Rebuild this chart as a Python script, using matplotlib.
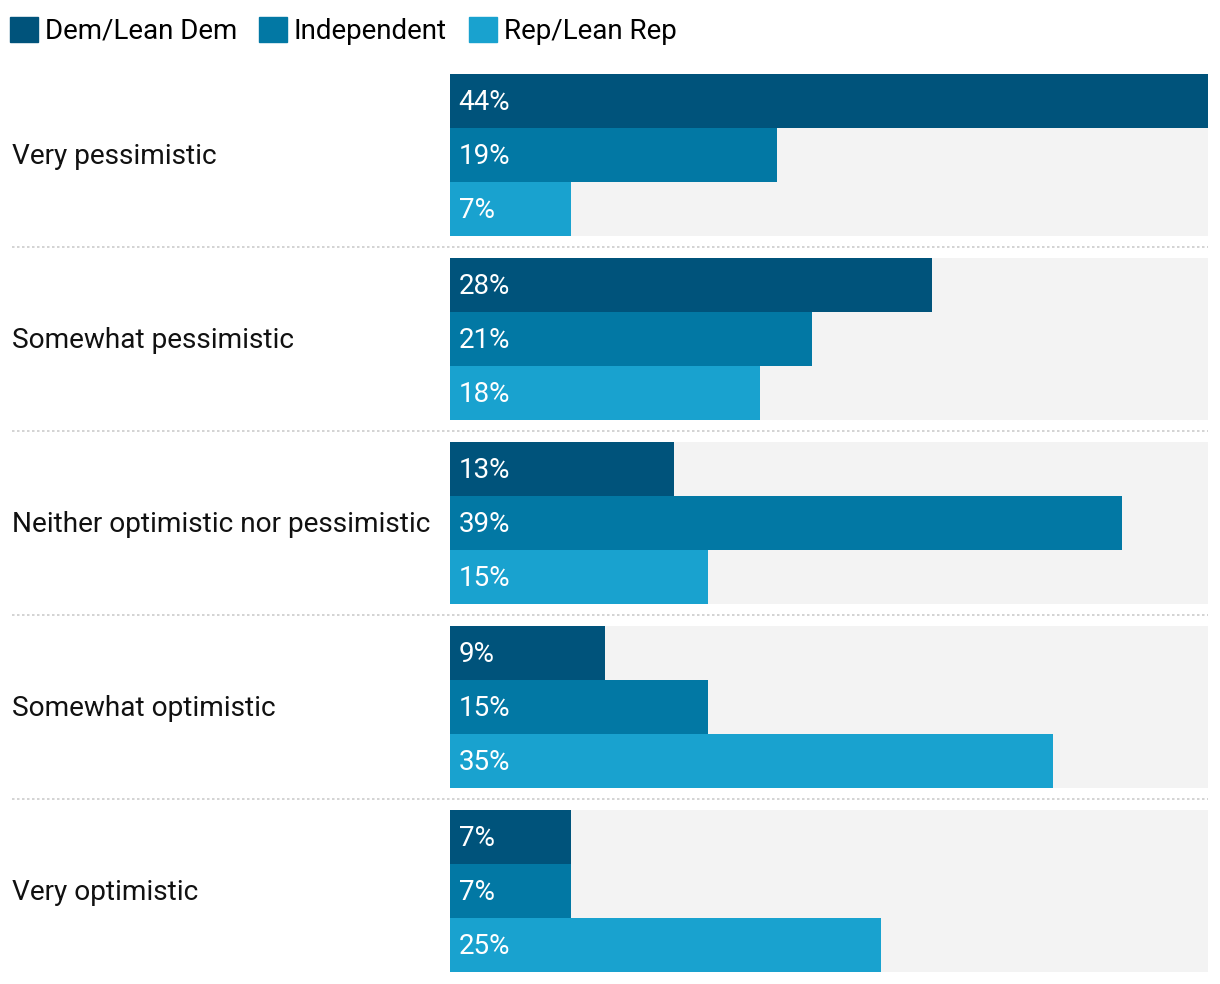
import matplotlib.pyplot as plt
from matplotlib.patches import Patch
from matplotlib.transforms import blended_transform_factory, offset_copy

plt.rcParams['font.family'] = ['Roboto', 'DejaVu Sans']

# datos
categories = ['Very pessimistic', 'Somewhat pessimistic',
              'Neither optimistic nor pessimistic', 'Somewhat optimistic',
              'Very optimistic']
series_names = ['Dem/Lean Dem', 'Independent', 'Rep/Lean Rep']
dem = [44, 28, 13, 9, 7]
ind = [19, 21, 39, 15, 7]
rep = [7, 18, 15, 35, 25]

colors = ['#00537B', '#0278A4', '#19A2CF']
values = [dem, ind, rep]
x_max = 44

W, H = 1220, 984
fig = plt.figure(figsize=(W / 100, H / 100), dpi=100)
ax = fig.add_axes([450 / W, 12 / H, 758 / W, 898 / H])

bar_h = 54 / 184
group_half = 81 / 184

# pequeño ajuste vertical del texto (en puntos)
txt_data = offset_copy(ax.transData, fig=fig, y=1.4, units='points')

for i in range(len(categories)):
    # fondo gris
    ax.barh(i, x_max, height=2 * group_half, color='#f3f3f3', zorder=0)
    for j, vals in enumerate(values):
        y = i - group_half + bar_h * (j + 0.5)
        ax.barh(y, vals[i], height=bar_h, color=colors[j], zorder=2)
        ax.text(0.5, y, f'{vals[i]}%', color='white', fontsize=20,
                va='center_baseline', ha='left', zorder=3,
                transform=txt_data)

trans = blended_transform_factory(ax.transAxes, ax.transData)
trans_txt = offset_copy(trans, fig=fig, y=1.4, units='points')
left_ax = (12 - 450) / 758
for i, cat in enumerate(categories):
    ax.text(left_ax, i, cat, transform=trans_txt, fontsize=20.2,
            va='center_baseline', ha='left', color='#111111')
    if i < len(categories) - 1:
        ax.plot([left_ax, 1], [i + 0.5, i + 0.5], transform=trans,
                color='#cccccc', lw=1.2, linestyle=(0, (1.5, 1.5)),
                clip_on=False)

ax.set_xlim(0, x_max)
ax.set_ylim(len(categories) - 1 + group_half, -group_half)
ax.axis('off')

handles = [Patch(color=c, label=n) for c, n in zip(colors, series_names)]
fig.legend(handles=handles, loc='upper left', bbox_to_anchor=(10 / W, 1 - 17 / H),
           ncol=3, frameon=False, fontsize=20, handlelength=1.0,
           handleheight=1.0, handletextpad=0.25, columnspacing=0.8,
           borderpad=0, borderaxespad=0)

fig.savefig('out.png', dpi=100)
